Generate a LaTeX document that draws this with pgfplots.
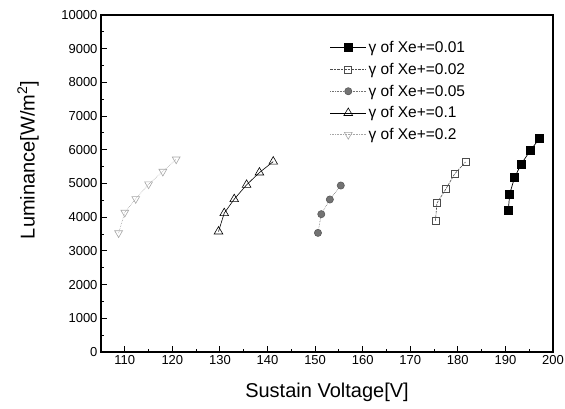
\documentclass[border=0pt]{standalone}
\usepackage{pgfplots}
\pgfplotsset{compat=1.18}
\usepackage{fontspec}
\setmainfont{Liberation Sans}
\begin{document}
\begin{tikzpicture}
\useasboundingbox (-101pt,-57pt) rectangle (464pt,352pt);
\begin{axis}[
  at={(0,0)}, anchor=south west,
  width=452pt, height=337pt, scale only axis,
  xmin=105, xmax=200, ymin=0, ymax=10000,
  xtick={110,120,...,200}, minor x tick num=1,
  ytick={0,1000,...,10000}, minor y tick num=1,
  tick align=inside, xtick pos=bottom, ytick pos=left,
  major tick length=6pt, minor tick length=3pt,
  axis line style={line width=1.2pt},
  every tick/.style={black, line width=1pt},
  scaled y ticks=false,
  /pgf/number format/1000 sep={},
  /pgf/number format/assume math mode=true,
  tick label style={font=\fontsize{13}{13}\selectfont},
  label style={font=\fontsize{20}{20}\selectfont},
  xlabel={Sustain Voltage[V]},
  ylabel={Luminance[W/m\textsuperscript{2}]},
  xlabel style={at={(axis description cs:0.5,-0.119)}, anchor=center},
  ylabel style={at={(axis description cs:-0.1615,0.57)}, anchor=center},
  legend style={at={(axis description cs:0.506,0.928)}, anchor=north west,
    draw=none, fill=none, font=\fontsize{15.5}{15.5}\selectfont,
    row sep=5pt, inner sep=0pt,
    /tikz/every even column/.append style={column sep=3pt}},
  legend cell align=left,
  legend image code/.code={\draw[mark repeat=2,mark phase=2] plot coordinates {(0pt,0pt) (18pt,0pt) (36pt,0pt)};},
]
\addplot[black, line width=0.7pt, mark=square*, mark size=4pt, mark options={solid}] coordinates {
(190.6,4190) (190.9,4690) (191.9,5170) (193.3,5575) (195.2,5970) (197.2,6345)};
\addlegendentry{γ of Xe+=0.01}
\addplot[black!70, line width=0.6pt, dash pattern=on 2.5pt off 1pt, mark=square, mark size=3.5pt, mark options={solid}] coordinates {
(175.3,3900) (175.6,4415) (177.5,4840) (179.3,5280) (181.6,5635)};
\addlegendentry{γ of Xe+=0.02}
\addplot[black!55, line width=0.6pt, densely dotted, mark=*, mark size=3.6pt, mark options={solid, fill=black!55, draw=black!65}] coordinates {
(150.6,3535) (151.3,4090) (153.1,4525) (155.4,4940)};
\addlegendentry{γ of Xe+=0.05}
\addplot[black, line width=0.6pt, mark=triangle, mark size=5pt, mark options={solid}] coordinates {
(129.7,3575) (130.9,4120) (133.0,4535) (135.6,4960) (138.3,5325) (141.2,5650)};
\addlegendentry{γ of Xe+=0.1}
\addplot[black!35, line width=0.6pt, densely dotted, mark=triangle, mark size=4.5pt, mark options={solid, rotate=180}] coordinates {
(108.7,3530) (110.0,4140) (112.3,4545) (115.0,4980) (118.0,5355) (120.8,5720)};
\addlegendentry{γ of Xe+=0.2}
\end{axis}
\end{tikzpicture}
\end{document}
